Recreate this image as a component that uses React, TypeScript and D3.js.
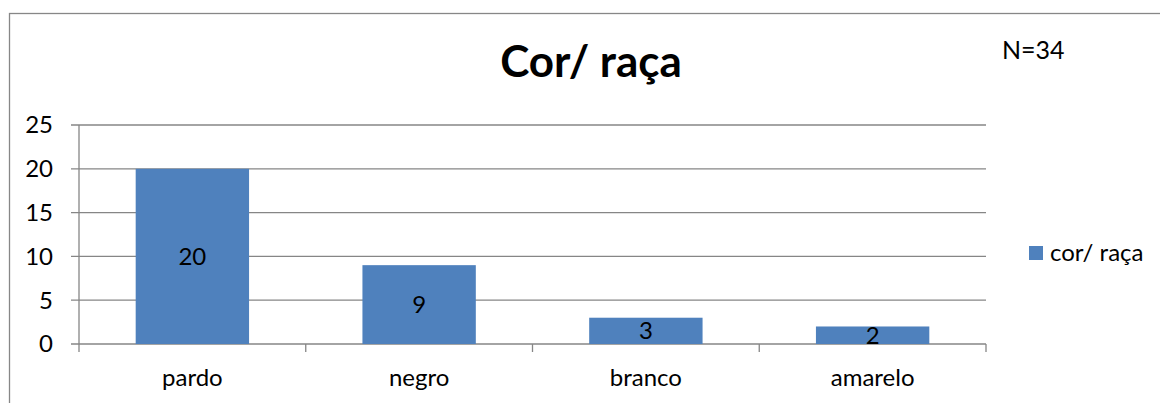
import React from "react";
import * as d3 from "d3";

const categories = ["pardo", "negro", "branco", "amarelo"];
const values = [20, 9, 3, 2];
const yTicks = [0, 5, 10, 15, 20, 25];
const seriesName = "cor/ raça";
const title = "Cor/ raça";
const note = "N=34";

const W = 1160;
const H = 403;
const FONT = "Lato, 'Open Sans', sans-serif";

export default function App() {
  const x = d3.scaleBand<string>().domain(categories).range([79, 986]).paddingInner(0.5).paddingOuter(0.25);
  const y = d3.scaleLinear().domain([0, 25]).range([344, 125]);
  const step = x.step();
  const grid = "#868686";
  return (
    <svg width={W} height={H} style={{ position: "absolute", left: 0, top: 0 }}>
      <rect x={0} y={0} width={W} height={H} fill="#fff" />
      <rect x={9.5} y={13.5} width={1200} height={500} fill="none" stroke="#878787" strokeWidth={1.3} />
      <text x={591} y={77} textAnchor="middle" fontFamily={FONT} fontWeight="bold" fontSize={44}>{title}</text>
      <text x={1002} y={59} fontFamily={FONT} fontSize={25}>{note}</text>
      {yTicks.map((t) => (
        <g key={t}>
          <line x1={71} x2={986} y1={y(t)} y2={y(t)} stroke={grid} strokeWidth={1.3} />
          <text x={53} y={y(t)} dy="0.35em" textAnchor="end" fontFamily={FONT} fontSize={24}>{t}</text>
        </g>
      ))}
      <line x1={79} x2={79} y1={y(25)} y2={352} stroke={grid} strokeWidth={1.3} />
      {categories.map((c, i) => {
        const bx = 79 + step * i;
        return <line key={"t" + c} x1={bx + step} x2={bx + step} y1={344} y2={352} stroke={grid} strokeWidth={1.3} />;
      })}
      {categories.map((c, i) => (
        <g key={c}>
          <rect x={x(c)} y={y(values[i])} width={x.bandwidth()} height={y(0) - y(values[i])} fill="#4F81BD" />
          <text x={(x(c) as number) + x.bandwidth() / 2} y={(y(values[i]) + y(0)) / 2} dy="0.35em" textAnchor="middle" fontFamily={FONT} fontSize={24}>{values[i]}</text>
          <text x={(x(c) as number) + x.bandwidth() / 2} y={386} textAnchor="middle" fontFamily={FONT} fontSize={24}>{c}</text>
        </g>
      ))}
      <rect x={1029} y={246} width={14} height={14} fill="#4F81BD" />
      <text x={1050} y={261} fontFamily={FONT} fontSize={24}>{seriesName}</text>
    </svg>
  );
}
